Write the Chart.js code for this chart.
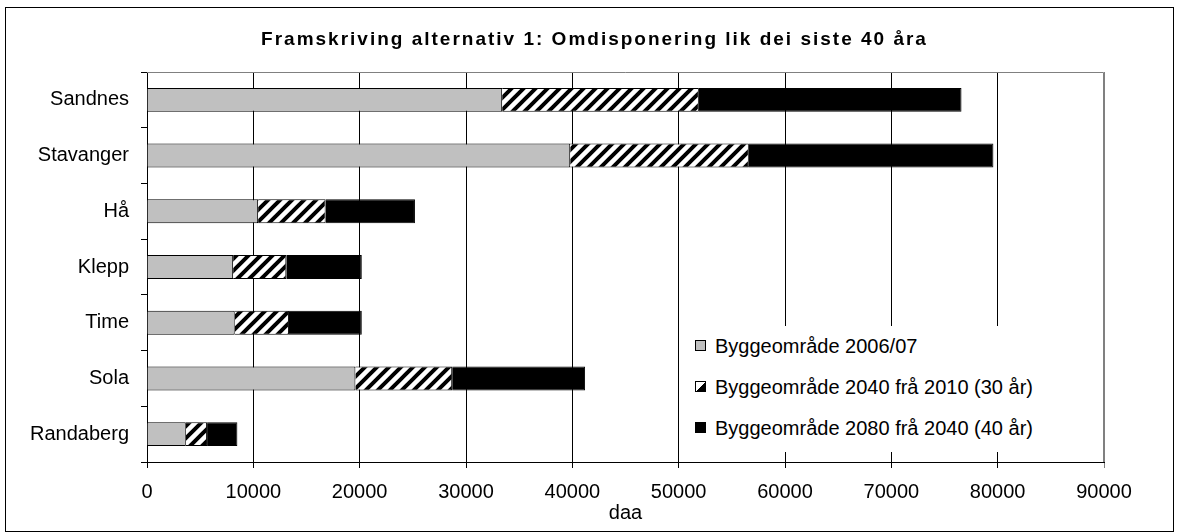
<!DOCTYPE html>
<html>
<head>
<meta charset="utf-8">
<script src="https://cdn.jsdelivr.net/npm/chart.js@4"></script>
<style>
  body { margin: 0; background: #fff; }
  #wrap { position: relative; width: 1179px; height: 532px; }
  #title {
    position: absolute; left: 0; top: 27px; width: 1179px; text-align: center;
    font: bold 19px "Liberation Sans", Arial, sans-serif; letter-spacing: 2px;
    line-height: 24px; color: #000; padding-left: 10px; box-sizing: border-box;
  }
  #legend {
    position: absolute; left: 688px; top: 326px; width: 405px; height: 126px;
    background: #fff; font: 20px "Liberation Sans", Arial, sans-serif; color: #000;
  }
  #legend div { position: absolute; left: 27px; white-space: nowrap; line-height: 24px; }
  #legend span.box {
    position: absolute; left: -20px; top: 6px; width: 9px; height: 9px; border: 1px solid #000;
  }
</style>
</head>
<body>
<div id="wrap">
  <canvas id="chart" width="1179" height="532"></canvas>
  <div id="title"></div>
  <div id="legend"></div>
</div>
<script>
const tittel = "Framskriving alternativ 1: Omdisponering lik dei siste 40 åra";
const kommunar = ["Sandnes", "Stavanger", "Hå", "Klepp", "Time", "Sola", "Randaberg"];
const bygg2006 = [33400, 39800, 10450, 8100, 8250, 19600, 3650];
const bygg2040 = [18500, 16800, 6350, 5000, 5100, 9100, 2000];
const bygg2080 = [24700, 23000, 8400, 7100, 6850, 12500, 2850];
const serieNamn = [
    "Byggeområde 2006/07",
    "Byggeområde 2040 frå 2010 (30 år)",
    "Byggeområde 2080 frå 2040 (40 år)"
];
const xTicks = [0, 10000, 20000, 30000, 40000, 50000, 60000, 70000, 80000, 90000];

const fontName = '"Liberation Sans", Arial, sans-serif';

// diagonal hatch like the excel pattern
function makeHatch() {
    const c = document.createElement("canvas");
    c.width = 12;
    c.height = 12;
    const g = c.getContext("2d");
    g.fillStyle = "#fff";
    g.fillRect(0, 0, 12, 12);
    g.strokeStyle = "#000";
    g.lineWidth = 4;
    g.beginPath();
    g.moveTo(-3, 15); g.lineTo(15, -3);
    g.moveTo(-9, 9); g.lineTo(9, -9);
    g.moveTo(3, 21); g.lineTo(21, 3);
    g.stroke();
    return g.createPattern(c, "repeat");
}

const ctx = document.getElementById("chart").getContext("2d");
const hatch = makeHatch();

const frame = {
    id: "frame",
    beforeDraw(chart) {
        const c = chart.ctx;
        c.save();
        c.strokeStyle = "#000";
        c.lineWidth = 1;
        c.strokeRect(5.5, 7.5, chart.width - 11, chart.height - 8);
        c.restore();
    },
    afterDatasetsDraw(chart) {
        const a = chart.chartArea;
        const c = chart.ctx;
        c.save();
        c.strokeStyle = "#808080";
        c.lineWidth = 1;
        c.beginPath();
        c.moveTo(a.left, a.top + 0.5);
        c.lineTo(a.right - 0.5, a.top + 0.5);
        c.lineTo(a.right - 0.5, a.bottom);
        c.stroke();
        c.restore();
    }
};

const chart = new Chart(ctx, {
    type: "bar",
    data: {
        labels: kommunar,
        datasets: [
            { label: serieNamn[0], data: bygg2006, backgroundColor: "#c0c0c0", borderColor: "#000", borderWidth: 1 },
            { label: serieNamn[1], data: bygg2040, backgroundColor: hatch, borderColor: "#000", borderWidth: 1 },
            { label: serieNamn[2], data: bygg2080, backgroundColor: "#000", borderColor: "#000", borderWidth: 1 }
        ]
    },
    options: {
        indexAxis: "y",
        responsive: false,
        animation: false,
        layout: { padding: { left: 6, right: 75, top: 72, bottom: 5 } },
        datasets: { bar: { categoryPercentage: 1, barPercentage: 0.43 } },
        plugins: {
            legend: { display: false },
            tooltip: { enabled: false },
            title: { display: false }
        },
        scales: {
            x: {
                stacked: true,
                min: 0,
                max: 90000,
                afterBuildTicks: (s) => { s.ticks = xTicks.map(v => ({ value: v })); },
                afterFit: (s) => { s.height = 65; },
                ticks: {
                    color: "#000",
                    padding: 12,
                    maxRotation: 0,
                    font: { family: fontName, size: 20 },
                    callback: (v) => String(v)
                },
                grid: {
                    color: (c) => c.tick && c.tick.value === 90000 ? "#808080" : "#000",
                    lineWidth: 1,
                    tickLength: 6
                },
                border: { color: "#000", width: 1 },
                title: {
                    display: true,
                    text: "daa",
                    color: "#000",
                    font: { family: fontName, size: 20 },
                    padding: { top: 0, bottom: 2 }
                }
            },
            y: {
                stacked: true,
                afterFit: (s) => { s.width = 141; },
                ticks: {
                    color: "#000",
                    padding: 12,
                    font: { family: fontName, size: 20 }
                },
                grid: {
                    offset: true,
                    drawOnChartArea: false,
                    color: "#000",
                    tickLength: 6
                },
                border: { color: "#000", width: 1 }
            }
        }
    },
    plugins: [frame]
});

document.getElementById("title").textContent = tittel;

// legend as html, white box over the grid lines like excel
const legendEl = document.getElementById("legend");
const rowTops = [8, 49, 90];
chart.data.datasets.forEach((ds, i) => {
    const row = document.createElement("div");
    row.style.top = rowTops[i] + "px";
    const box = document.createElement("span");
    box.className = "box";
    if (i === 0) box.style.background = ds.backgroundColor;
    else if (i === 1) box.style.background = "linear-gradient(to bottom right, #fff 50%, #000 50%)";
    else box.style.background = "#000";
    row.appendChild(box);
    row.appendChild(document.createTextNode(ds.label));
    legendEl.appendChild(row);
});
</script>
</body>
</html>
